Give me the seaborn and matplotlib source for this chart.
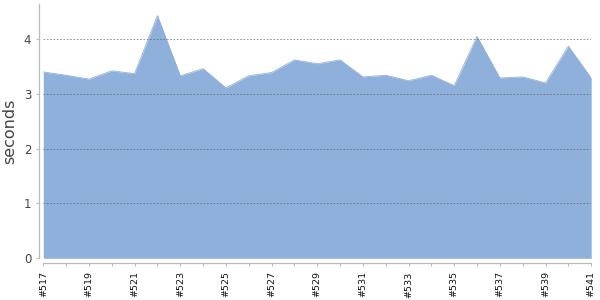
import matplotlib
matplotlib.use("Agg")
import matplotlib.pyplot as plt
import seaborn as sns
import pandas as pd

builds = [f"#{n}" for n in range(517, 542)]
seconds = [3.40, 3.34, 3.27, 3.42, 3.37, 4.43, 3.33, 3.46, 3.11, 3.33,
           3.39, 3.62, 3.55, 3.62, 3.31, 3.34, 3.24, 3.34, 3.15, 4.05,
           3.29, 3.31, 3.20, 3.87, 3.29]
y_ticks = [0, 1, 2, 3, 4]

sns.set_theme(style="white")
plt.rcParams['font.family'] = ['DejaVu Sans']

df = pd.DataFrame({"idx": range(len(builds)), "build": builds, "seconds": seconds})

PX = 72 / 100  # points per pixel at dpi 100

fig = plt.figure(figsize=(6, 3), dpi=100)
ax = fig.add_axes([43.3 / 600, 41.7 / 300, (591.2 - 43.3) / 600, (258.3 - 4) / 300])

fill_color = "#8eb0da"
ax.fill_between(df["idx"], 0, df["seconds"], color=fill_color, linewidth=0, zorder=1)
sns.lineplot(data=df, x="idx", y="seconds", ax=ax, color=fill_color, linewidth=0.6, zorder=2)

ax.set_xlim(0, len(builds) - 1)
ax.set_ylim(0, 4.64)

ax.set_yticks(y_ticks)
ax.set_yticklabels([str(t) for t in y_ticks])
ax.yaxis.grid(True, linestyle=(0, (2, 2)), color="#555555", linewidth=0.6, alpha=0.7)
ax.set_axisbelow(False)
for gl in ax.yaxis.get_gridlines():
    gl.set_zorder(3)

major = list(range(0, len(builds), 2))
minor = list(range(1, len(builds), 2))
ax.set_xticks(major)
ax.set_xticks(minor, minor=True)
ax.set_xticklabels([builds[i] for i in major])
ax.tick_params(axis="x", which="both", direction="out", length=3 * PX, width=0.8,
               color="#bbbbbb", bottom=True, pad=5 * PX)
ax.tick_params(axis="x", which="major", labelrotation=90, labelsize=6.8, labelcolor="#111111")
ax.tick_params(axis="y", direction="out", length=3 * PX, width=0.8, color="#bbbbbb",
               left=True, pad=5 * PX, labelsize=8.5, labelcolor="#444444")

for s in ["top", "right"]:
    ax.spines[s].set_visible(False)
ax.spines["left"].set_position(("outward", 4 * PX))
ax.spines["bottom"].set_position(("outward", 5 * PX))
ax.spines["left"].set_color("#bbbbbb")
ax.spines["bottom"].set_color("#bbbbbb")
ax.spines["left"].set_linewidth(0.9)
ax.spines["bottom"].set_linewidth(0.9)

ax.set_xlabel("")
ax.set_ylabel("seconds", fontsize=11.5, color="#444444", labelpad=5)

fig.savefig("out.png", dpi=100)
